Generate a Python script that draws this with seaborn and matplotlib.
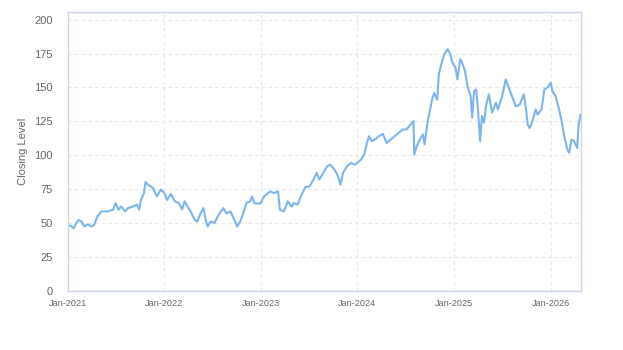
import matplotlib
matplotlib.use("Agg")
import matplotlib.pyplot as plt
import matplotlib.dates as mdates
import pandas as pd
import seaborn as sns

dates = [
    "2021-01-01", "2021-01-13", "2021-01-23", "2021-02-03", "2021-02-12", "2021-02-22",
    "2021-03-05", "2021-03-17", "2021-04-01", "2021-04-11", "2021-04-23", "2021-05-08",
    "2021-05-31", "2021-06-22", "2021-07-01", "2021-07-12", "2021-07-22", "2021-08-06",
    "2021-08-17", "2021-09-05", "2021-09-20", "2021-09-28", "2021-10-05", "2021-10-16",
    "2021-10-22", "2021-10-31", "2021-11-19", "2021-12-04", "2021-12-19", "2022-01-02",
    "2022-01-11", "2022-01-26", "2022-02-10", "2022-02-25", "2022-03-09", "2022-03-19",
    "2022-03-30", "2022-04-11", "2022-04-26", "2022-05-06", "2022-05-18", "2022-05-29",
    "2022-06-07", "2022-06-14", "2022-06-25", "2022-07-10", "2022-07-25", "2022-08-12",
    "2022-08-24", "2022-09-08", "2022-09-23", "2022-10-03", "2022-10-15", "2022-10-26",
    "2022-11-07", "2022-11-22", "2022-11-29", "2022-12-07", "2022-12-22", "2023-01-01",
    "2023-01-13", "2023-02-05", "2023-02-20", "2023-03-07", "2023-03-14", "2023-03-29",
    "2023-04-13", "2023-04-28", "2023-05-05", "2023-05-20", "2023-06-04", "2023-06-19",
    "2023-07-04", "2023-07-19", "2023-07-31", "2023-08-10", "2023-08-25", "2023-09-09",
    "2023-09-20", "2023-10-02", "2023-10-14", "2023-10-24", "2023-10-29", "2023-11-08",
    "2023-11-23", "2023-12-08", "2023-12-23", "2023-12-31", "2024-01-15", "2024-01-27",
    "2024-02-06", "2024-02-14", "2024-02-24", "2024-03-07", "2024-03-22", "2024-04-06",
    "2024-04-21", "2024-05-06", "2024-05-21", "2024-06-05", "2024-06-20", "2024-07-05",
    "2024-07-20", "2024-07-31", "2024-08-03", "2024-08-12", "2024-08-24", "2024-09-05",
    "2024-09-11", "2024-09-23", "2024-10-03", "2024-10-11", "2024-10-18", "2024-10-29",
    "2024-11-04", "2024-11-13", "2024-11-25", "2024-12-07", "2024-12-17", "2024-12-25",
    "2025-01-06", "2025-01-13", "2025-01-24", "2025-01-31", "2025-02-11", "2025-02-20",
    "2025-03-04", "2025-03-10", "2025-03-17", "2025-03-25", "2025-04-01", "2025-04-09",
    "2025-04-16", "2025-04-24", "2025-05-01", "2025-05-12", "2025-05-24", "2025-06-08",
    "2025-06-15", "2025-06-30", "2025-07-15", "2025-07-26", "2025-08-07", "2025-08-22",
    "2025-09-06", "2025-09-21", "2025-09-28", "2025-10-06", "2025-10-13", "2025-10-24",
    "2025-11-05", "2025-11-12", "2025-11-27", "2025-12-08", "2025-12-20", "2026-01-01",
    "2026-01-07", "2026-01-19", "2026-01-31", "2026-02-10", "2026-02-21", "2026-03-05",
    "2026-03-12", "2026-03-20", "2026-03-30", "2026-04-11", "2026-04-16", "2026-04-23",
]

closing = [
    48.1, 48.0, 46.0, 50.0, 52.3, 51.0,
    47.4, 49.0, 47.4, 48.6, 54.8, 58.5,
    58.5, 59.8, 64.7, 59.8, 62.2, 58.5,
    61.0, 62.2, 63.5, 59.8, 67.0, 72.0,
    80.2, 78.3, 75.8, 69.6, 74.6, 72.0,
    67.0, 71.4, 66.0, 64.7, 60.0, 66.0,
    62.0, 58.5, 52.3, 51.0, 57.0, 61.0,
    52.0, 47.4, 51.0, 50.0, 56.0, 61.0,
    57.0, 58.5, 52.3, 47.4, 51.0, 57.0,
    64.7, 66.0, 69.6, 64.7, 64.2, 64.7,
    69.6, 73.3, 72.0, 73.3, 59.8, 58.5,
    66.0, 62.0, 64.7, 63.5, 70.9, 76.5,
    77.0, 82.0, 87.0, 82.0, 87.0, 91.9,
    93.0, 90.6, 87.0, 82.0, 78.3, 87.0,
    91.9, 94.3, 93.0, 94.3, 96.8, 100.5,
    109.0, 114.0, 110.4, 111.6, 114.0, 115.8,
    109.0, 111.6, 114.0, 116.5, 119.0, 119.0,
    122.7, 125.2, 100.5, 106.7, 111.6, 115.3,
    108.0, 125.2, 135.0, 142.5, 146.0, 141.0,
    159.8, 167.0, 174.6, 178.3, 174.6, 168.4,
    164.7, 156.0, 170.9, 168.4, 162.0, 151.0,
    143.7, 127.7, 147.3, 148.6, 133.8, 110.4,
    128.9, 124.0, 136.0, 145.0, 131.4, 138.8,
    133.8, 142.5, 156.0, 149.9, 143.7, 136.0,
    137.5, 145.0, 136.0, 122.7, 120.0, 125.2,
    133.8, 130.0, 133.8, 148.6, 150.0, 153.6,
    147.3, 143.7, 135.0, 126.4, 114.0, 104.2,
    101.7, 111.6, 110.4, 105.4, 121.5, 130.0,
]

y_ticks = [0, 25, 50, 75, 100, 125, 150, 175, 200]
x_ticks = ["2021-01-01", "2022-01-01", "2023-01-01", "2024-01-01", "2025-01-01", "2026-01-01"]
y_title = "Closing Level"

df = pd.DataFrame({"Date": pd.to_datetime(dates), "Close": closing})

sns.set_style("white")
plt.rcParams["font.family"] = ["Liberation Sans", "DejaVu Sans"]

fig = plt.figure(figsize=(6.23, 3.5), dpi=100)
ax = fig.add_axes([0.1087, 0.1694, 0.8233, 0.7955])

sns.lineplot(data=df, x="Date", y="Close", ax=ax, color="#7cb5ec", linewidth=1.5)

ax.set_ylim(0, 205.5)
ax.set_xlim(pd.Timestamp("2021-01-01"), pd.Timestamp("2026-04-24"))
ax.set_yticks(y_ticks)
ax.set_xticks(pd.to_datetime(x_ticks))
ax.xaxis.set_major_formatter(mdates.DateFormatter("%b-%Y"))

ax.grid(True, color="#e6e6e6", linestyle=(0, (3, 3)), linewidth=0.8)
ax.set_axisbelow(True)
for s in ax.spines.values():
    s.set_color("#ccd6eb")
    s.set_linewidth(1.0)

ax.tick_params(axis="y", length=0, pad=11, labelsize=8, labelcolor="#666666")
ax.tick_params(axis="x", length=4, width=0.8, color="#ccd6eb", pad=2, labelsize=6.6, labelcolor="#666666")

ax.set_xlabel("")
ax.set_ylabel(y_title, fontsize=8, color="#666666")
ax.yaxis.set_label_coords(-0.078, 0.5)

fig.savefig("out.png", dpi=100)
